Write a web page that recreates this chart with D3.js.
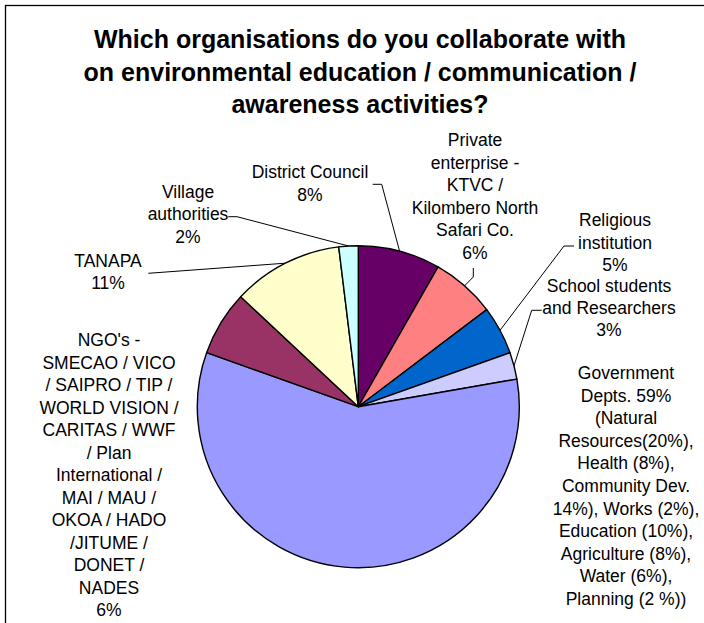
<!DOCTYPE html>
<html>
<head>
<meta charset="utf-8">
<script src="https://cdn.jsdelivr.net/npm/d3@7"></script>
<style>
  html, body { margin: 0; padding: 0; background: #fff; }
  svg { display: block; }
  text { font-family: "Liberation Sans", Arial, sans-serif; fill: #000; }
</style>
</head>
<body>
<svg id="chart" width="704" height="623"></svg>
<script>
// ---- Data ----
const categories = [
  "District Council",
  "Private enterprise",
  "Religious institution",
  "School students and Researchers",
  "Government Depts.",
  "NGO's",
  "TANAPA",
  "Village authorities"
];
const values = [8.25, 6.45, 4.86, 2.7, 58.2, 6.5, 11.1, 1.94];
const colors = ["#660066", "#FF8080", "#0066CC", "#CCCCFF", "#9999FF", "#993366", "#FFFFCC", "#CCFFFF"];
const labelLines = [
  ["District Council", "8%"],
  ["Private", "enterprise -", "KTVC /", "Kilombero North", "Safari Co.", "6%"],
  ["Religious", "institution", "5%"],
  ["School students", "and Researchers", "3%"],
  ["Government", "Depts. 59%", "(Natural", "Resources(20%),", "Health (8%),", "Community Dev.", "14%), Works (2%),", "Education (10%),", "Agriculture (8%),", "Water (6%),", "Planning (2 %))"],
  ["NGO's -", "SMECAO / VICO", "/ SAIPRO / TIP /", "WORLD VISION /", "CARITAS / WWF", "/ Plan", "International /", "MAI / MAU /", "OKOA / HADO", "/JITUME /", "DONET /", "NADES", "6%"],
  ["TANAPA", "11%"],
  ["Village", "authorities", "2%"]
];
const titleLines = [
  "Which organisations do you collaborate with",
  "on environmental education / communication /",
  "awareness activities?"
];

// ---- Layout ----
const cx = 358.3, cy = 406.7, R = 161;
const labelLayout = [
  { x: 310, y: 178, lh: 22.5, leader: [[372.7, 184.3], [381.7, 184.3]] },
  { x: 475, y: 146, lh: 22.5, leader: [[473.3, 268], [473.3, 277]] },
  { x: 615, y: 226, lh: 22.5, leader: [[574, 246], [564, 246]] },
  { x: 609, y: 292, lh: 22, leader: [[541.7, 310.3], [531.7, 310.3]] },
  { x: 626, y: 379, lh: 22.6, leader: null },
  { x: 109, y: 346, lh: 22.5, leader: null },
  { x: 108, y: 266.5, lh: 22.5, leader: [[148.3, 273.3]] },
  { x: 188, y: 197.5, lh: 22.5, leader: [[228.3, 216.7], [237, 216.7]] }
];

const svg = d3.select("#chart");

// frame
svg.append("rect")
  .attr("x", 5.5).attr("y", 5.5)
  .attr("width", 760).attr("height", 700)
  .attr("fill", "none").attr("stroke", "#000").attr("stroke-width", 1.3);

// title
svg.append("g").selectAll("text")
  .data(titleLines)
  .join("text")
  .attr("x", 360)
  .attr("y", (d, i) => 48 + i * 32.5)
  .attr("text-anchor", "middle")
  .attr("font-size", 25)
  .attr("font-weight", "bold")
  .text(d => d);

// pie
const pie = d3.pie().sort(null).value(d => d).startAngle(0).endAngle(2 * Math.PI);
const arcs = pie(values);
const arc = d3.arc().innerRadius(0).outerRadius(R);

const g = svg.append("g").attr("transform", `translate(${cx},${cy})`);
g.selectAll("path")
  .data(arcs)
  .join("path")
  .attr("d", arc)
  .attr("fill", (d, i) => colors[i])
  .attr("stroke", "#000")
  .attr("stroke-width", 1.4)
  .attr("stroke-linejoin", "round");

// leader lines
const line = d3.line();
arcs.forEach((a, i) => {
  const L = labelLayout[i];
  if (!L.leader) return;
  const mid = (a.startAngle + a.endAngle) / 2;
  const edge = [cx + R * Math.sin(mid), cy - R * Math.cos(mid)];
  const pts = L.leader.concat([edge]);
  svg.append("path")
    .attr("d", line(pts))
    .attr("fill", "none")
    .attr("stroke", "#000")
    .attr("stroke-width", 1);
});

// labels
labelLines.forEach((lines, i) => {
  const L = labelLayout[i];
  svg.append("g").selectAll("text")
    .data(lines)
    .join("text")
    .attr("x", L.x)
    .attr("y", (d, j) => L.y + j * L.lh)
    .attr("text-anchor", "middle")
    .attr("font-size", 17.5)
    .text(d => d);
});
</script>
</body>
</html>
